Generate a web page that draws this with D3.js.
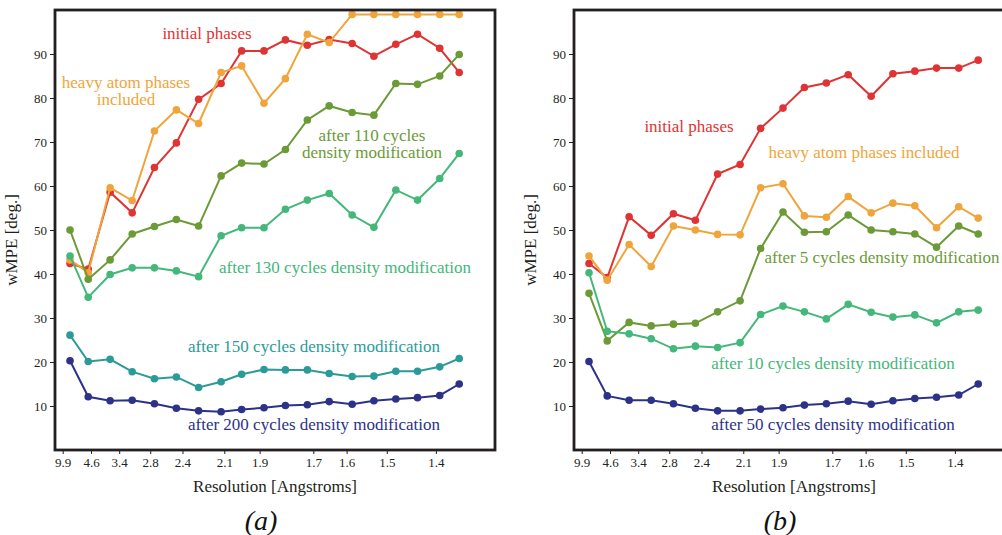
<!doctype html>
<html lang="en">
<head>
  <meta charset="utf-8">
  <title>wMPE vs resolution</title>
  <style>
    * { margin: 0; padding: 0; box-sizing: border-box; }
    body { background: #fff; width: 1002px; height: 535px; overflow: hidden; }
    text { font-family: "Liberation Serif", "DejaVu Serif", serif; }
  </style>
</head>
<body>
  <div id="container"></div>
  <script src="https://cdn.jsdelivr.net/npm/d3@7"></script>
  <script>
    // resolution (Angstrom) of each shell, x axis is linear in 1/d^2
    const resolution = [7.05, 4.74, 3.68, 3.11, 2.74, 2.48, 2.28, 2.12, 2.00, 1.89,
                        1.80, 1.72, 1.65, 1.585, 1.53, 1.48, 1.435, 1.393, 1.359];
    const tickRes = [9.85, 4.55, 3.41, 2.80, 2.42, 2.10, 1.91, 1.70, 1.60, 1.50, 1.40];
    const tickLabels = ['9.9', '4.6', '3.4', '2.8', '2.4', '2.1', '1.9', '1.7', '1.6', '1.5', '1.4'];
    const yTicks = [10, 20, 30, 40, 50, 60, 70, 80, 90];

    // panel (a)
    const aInitial = [42.4, 41.1, 58.6, 53.9, 64.2, 69.8, 79.7, 83.3, 90.7, 90.7, 93.2, 92.0, 93.3, 92.4, 89.5, 92.2, 94.5, 91.3, 85.8];
    const aHeavy   = [43.2, 40.3, 59.6, 56.7, 72.5, 77.3, 74.2, 85.8, 87.3, 78.8, 84.4, 94.5, 92.6, 99.0, 99.0, 99.0, 99.0, 99.0, 99.0];
    const aDm110   = [50.0, 38.8, 43.2, 49.1, 50.8, 52.4, 50.9, 62.3, 65.2, 65.0, 68.3, 75.0, 78.2, 76.7, 76.1, 83.3, 83.1, 85.0, 89.9];
    const aDm130   = [44.1, 34.7, 39.9, 41.4, 41.4, 40.7, 39.4, 48.7, 50.5, 50.5, 54.7, 56.8, 58.3, 53.4, 50.6, 59.1, 56.8, 61.7, 67.4];
    const aDm150   = [26.1, 20.1, 20.6, 17.8, 16.2, 16.6, 14.2, 15.5, 17.2, 18.3, 18.2, 18.2, 17.4, 16.7, 16.8, 17.9, 17.9, 18.9, 20.8];
    const aDm200   = [20.3, 12.1, 11.2, 11.3, 10.5, 9.5, 8.9, 8.7, 9.2, 9.6, 10.1, 10.3, 11.0, 10.4, 11.2, 11.6, 11.9, 12.4, 15.0];

    // panel (b)
    const bInitial = [42.4, 39.2, 53.0, 48.8, 53.7, 52.2, 62.7, 64.9, 73.1, 77.7, 82.4, 83.4, 85.3, 80.4, 85.5, 86.1, 86.8, 86.8, 88.6];
    const bHeavy   = [44.1, 38.6, 46.7, 41.7, 50.9, 50.0, 49.0, 48.9, 59.6, 60.5, 53.2, 52.9, 57.6, 53.9, 56.1, 55.5, 50.5, 55.3, 52.7];
    const bDm5     = [35.6, 24.8, 29.0, 28.2, 28.6, 28.8, 31.4, 33.9, 45.8, 54.1, 49.5, 49.6, 53.4, 50.0, 49.6, 49.1, 46.1, 50.9, 49.1];
    const bDm10    = [40.3, 27.0, 26.4, 25.3, 23.0, 23.6, 23.3, 24.4, 30.8, 32.7, 31.4, 29.8, 33.1, 31.3, 30.2, 30.7, 28.9, 31.4, 31.8];
    const bDm50    = [20.1, 12.3, 11.3, 11.3, 10.5, 9.5, 8.9, 8.9, 9.3, 9.6, 10.2, 10.5, 11.1, 10.4, 11.2, 11.7, 12.0, 12.5, 15.0];

    const col = {
      red: '#df3334', orange: '#f0a53c', olive: '#6b9a36',
      green: '#44b77a', teal: '#2b9b99', navy: '#2c3287'
    };

    const panels = [
      {
        left: 55, caption: '(a)',
        series: [
          {v: aInitial, c: col.red}, {v: aHeavy, c: col.orange}, {v: aDm110, c: col.olive},
          {v: aDm130, c: col.green}, {v: aDm150, c: col.teal}, {v: aDm200, c: col.navy}
        ],
        // labels: x,y are centre positions inside the panel
        labels: [
          {t: ['initial phases'], x: 152, y: 23, c: col.red},
          {t: ['heavy atom phases', 'included'], x: 71, y: 72, c: col.orange},
          {t: ['after 110 cycles', 'density modification'], x: 317, y: 125, c: col.olive},
          {t: ['after 130 cycles density modification'], x: 290, y: 257, c: col.green},
          {t: ['after 150 cycles density modification'], x: 259, y: 336, c: col.teal},
          {t: ['after 200 cycles density modification'], x: 259, y: 414, c: col.navy}
        ]
      },
      {
        left: 574, caption: '(b)',
        series: [
          {v: bInitial, c: col.red}, {v: bHeavy, c: col.orange}, {v: bDm5, c: col.olive},
          {v: bDm10, c: col.green}, {v: bDm50, c: col.navy}
        ],
        labels: [
          {t: ['initial phases'], x: 115, y: 116, c: col.red},
          {t: ['heavy atom phases included'], x: 290, y: 142, c: col.orange},
          {t: ['after 5 cycles density modification'], x: 308, y: 247, c: col.olive},
          {t: ['after 10 cycles density modification'], x: 259, y: 353, c: col.green},
          {t: ['after 50 cycles density modification'], x: 259, y: 414, c: col.navy}
        ]
      }
    ];

    const W = 440, H = 440, marginTop = 10;
    const lineH = 17;

    const svg = d3.select('#container').append('svg')
      .attr('width', 1002)
      .attr('height', 535);

    const x = d3.scaleLinear().domain([0, 0.5894]).range([0, W]);
    const y = d3.scaleLinear().domain([0, 100]).range([H, 0]);
    const s2 = d => 1 / (d * d);

    panels.forEach(p => {
      const g = svg.append('g').attr('transform', `translate(${p.left},${marginTop})`);

      const xAxis = d3.axisBottom(x)
        .tickValues(tickRes.map(s2))
        .tickFormat((d, i) => tickLabels[i])
        .tickSize(4).tickPadding(4);
      const gx = g.append('g').attr('transform', `translate(0,${H})`).call(xAxis);

      const yAxis = d3.axisLeft(y).tickValues(yTicks).tickSize(5).tickPadding(3);
      const gy = g.append('g').call(yAxis);

      [gx, gy].forEach(a => {
        a.select('.domain').remove();
        a.selectAll('line').attr('stroke', '#231f20').attr('stroke-width', 1);
        a.selectAll('text').attr('fill', '#231f20')
          .style('font-family', '"Liberation Serif", serif').style('font-size', '13px');
      });

      p.series.forEach(s => {
        const pts = s.v.map((v, i) => [resolution[i], v]);
        g.append('path')
          .datum(pts)
          .attr('fill', 'none')
          .attr('stroke', s.c)
          .attr('stroke-width', 2)
          .attr('d', d3.line().x(d => x(s2(d[0]))).y(d => y(d[1])));
        g.selectAll(null)
          .data(pts)
          .enter()
          .append('circle')
          .attr('cx', d => x(s2(d[0])))
          .attr('cy', d => y(d[1]))
          .attr('r', 3.8)
          .attr('fill', s.c);
      });

      p.labels.forEach(l => {
        const t = g.append('text')
          .attr('text-anchor', 'middle')
          .attr('fill', l.c)
          .style('font-size', '17px');
        l.t.forEach((line, i) => {
          t.append('tspan')
            .attr('x', l.x)
            .attr('y', l.y + i * lineH)
            .attr('dy', '0.35em')
            .text(line);
        });
      });

      g.append('rect')
        .attr('width', W).attr('height', H)
        .attr('fill', 'none')
        .attr('stroke', '#231f20')
        .attr('stroke-width', 2.8);

      g.append('text')
        .attr('transform', `translate(${-38},${H / 2 + 10}) rotate(-90)`)
        .attr('text-anchor', 'middle')
        .attr('fill', '#231f20')
        .style('font-size', '17px')
        .text('wMPE [deg.]');

      g.append('text')
        .attr('x', 220).attr('y', 482)
        .attr('text-anchor', 'middle')
        .attr('fill', '#231f20')
        .style('font-size', '17px')
        .text('Resolution [Angstroms]');

      g.append('text')
        .attr('x', 206).attr('y', 520)
        .attr('text-anchor', 'middle')
        .attr('fill', '#111')
        .style('font-size', '28px')
        .style('font-style', 'italic')
        .text(p.caption);
    });
  </script>
</body>
</html>
